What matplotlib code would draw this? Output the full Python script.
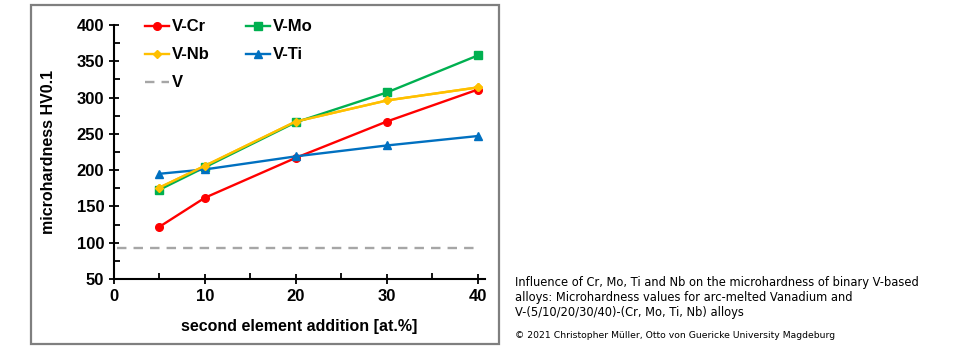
import matplotlib.pyplot as plt
import matplotlib.patches as patches

# data
x_add = [5, 10, 20, 30, 40]
v_cr = [122, 162, 217, 267, 311]
v_mo = [173, 204, 266, 307, 358]
v_nb = [176, 206, 267, 296, 314]
v_ti = [195, 201, 219, 234, 247]
v_pure = 93

caption = ("Influence of Cr, Mo, Ti and Nb on the microhardness of binary V-based\n"
           "alloys: Microhardness values for arc-melted Vanadium and\n"
           "V-(5/10/20/30/40)-(Cr, Mo, Ti, Nb) alloys")
credit = "\u00a9 2021 Christopher M\u00fcller, Otto von Guericke University Magdeburg"

plt.rcParams['font.family'] = ['Liberation Sans', 'DejaVu Sans']

fig = plt.figure(figsize=(9.8, 3.5), dpi=100)
ax = fig.add_axes([114/980, 1-279/350, (485-114)/980, (279-25)/350])

# grey frame round the chart area
fig.patches.append(patches.Rectangle((31/980, 1-344/350), (499-31)/980, (344-5)/350,
                                     transform=fig.transFigure, fill=False,
                                     edgecolor='#7f7f7f', linewidth=1.6))

lw = 1.7
ax.plot(x_add, v_cr, '-o', color='#ff0000', ms=5.5, lw=lw, label='V-Cr')
ax.plot(x_add, v_nb, '-D', color='#ffc000', ms=4, lw=lw, label='V-Nb')
ax.plot([0.3, 40], [v_pure, v_pure], '--', color='#a6a6a6', lw=lw, dashes=(4, 3), label='V')
ax.plot(x_add, v_mo, '-s', color='#00b050', ms=5.5, lw=lw, label='V-Mo')
ax.plot(x_add, v_ti, '-^', color='#0070c0', ms=5.5, lw=lw, label='V-Ti')
# redraw Nb on top like the reference
ax.plot(x_add, v_nb, '-D', color='#ffc000', ms=4, lw=lw)

ax.set_xlim(0, 40.8)
ax.set_ylim(50, 400)
ax.set_xticks([0, 10, 20, 30, 40])
ax.set_xticks([5, 15, 25, 35], minor=True)
ax.set_yticks(range(50, 401, 50))
ax.set_yticks(range(75, 400, 50), minor=True)
ax.tick_params(which='major', direction='inout', length=7, width=1.3, labelsize=12)
ax.tick_params(which='minor', direction='in', length=4, width=1.3)
for lab in ax.get_xticklabels() + ax.get_yticklabels():
    lab.set_fontweight('bold')

ax.spines['top'].set_visible(False)
ax.spines['right'].set_visible(False)
ax.spines['left'].set_linewidth(1.5)
ax.spines['bottom'].set_linewidth(1.5)

ax.set_xlabel('second element addition [at.%]', fontsize=11.5, fontweight='bold', labelpad=11)
ax.set_ylabel('microhardness HV0.1', fontsize=11.5, fontweight='bold', labelpad=15)

leg = ax.legend(ncol=2, loc='upper left', bbox_to_anchor=(0.083, 1.022), frameon=False,
                prop={'weight': 'bold', 'size': 12}, handlelength=1.45, handletextpad=0.15,
                columnspacing=2.2, labelspacing=0.78, borderpad=0, borderaxespad=0)

fig.text(515/980, 1-276/350, caption, fontsize=8.3, family='DejaVu Sans',
         va='top', ha='left', linespacing=1.2)
fig.text(515/980, 1-331/350, credit, fontsize=6.7, family='DejaVu Sans',
         va='top', ha='left')

fig.savefig('out.png', dpi=100)
